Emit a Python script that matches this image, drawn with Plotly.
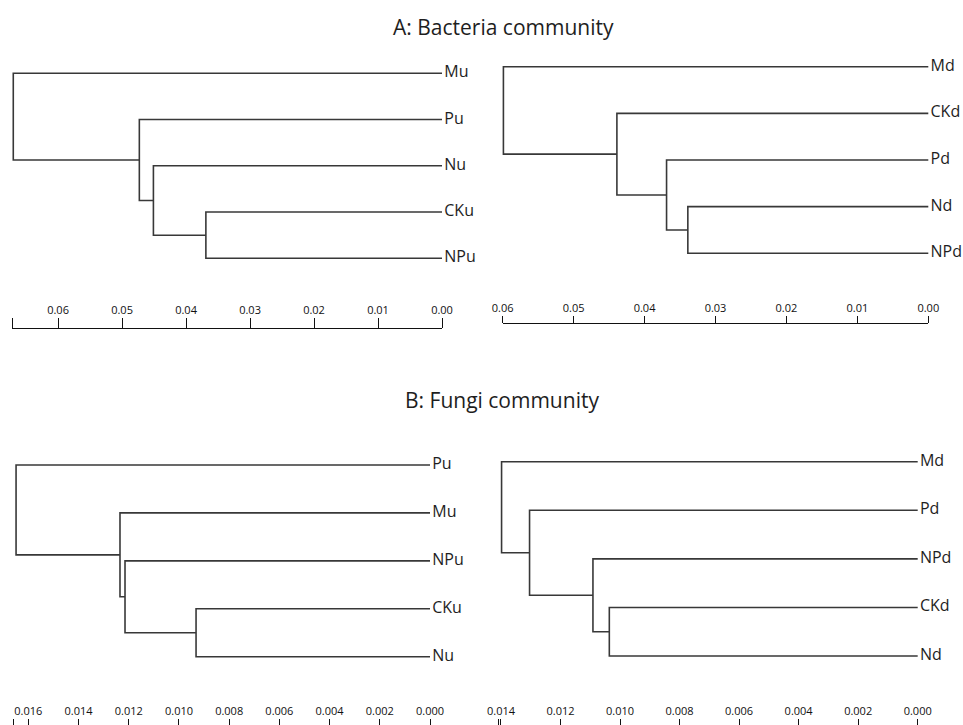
import plotly.graph_objects as go

W, H = 963, 725

# ---------------- data ----------------
# Panel A (bacteria), left: leaves top->bottom, merges (child_a, child_b, height)
a_left_leaves = ["Mu", "Pu", "Nu", "CKu", "NPu"]
a_left_merges = [(3, 4, 0.0369), (2, 5, 0.0451), (1, 6, 0.0473), (0, 7, 0.0670)]
a_left_ticks = [0.06, 0.05, 0.04, 0.03, 0.02, 0.01, 0.00]
a_left_ticktext = ["0.06", "0.05", "0.04", "0.03", "0.02", "0.01", "0.00"]
a_left_axis_end = 0.0672

a_right_leaves = ["Md", "CKd", "Pd", "Nd", "NPd"]
a_right_merges = [(3, 4, 0.0339), (2, 5, 0.0369), (1, 6, 0.0439), (0, 7, 0.0599)]
a_right_ticks = [0.06, 0.05, 0.04, 0.03, 0.02, 0.01, 0.00]
a_right_ticktext = ["0.06", "0.05", "0.04", "0.03", "0.02", "0.01", "0.00"]
a_right_axis_end = 0.0600

# Panel B (fungi)
b_left_leaves = ["Pu", "Mu", "NPu", "CKu", "Nu"]
b_left_merges = [(3, 4, 0.00932), (2, 5, 0.01215), (1, 6, 0.01235), (0, 7, 0.01649)]
b_left_ticks = [0.016, 0.014, 0.012, 0.010, 0.008, 0.006, 0.004, 0.002, 0.000]
b_left_ticktext = ["0.016", "0.014", "0.012", "0.010", "0.008", "0.006", "0.004", "0.002", "0.000"]
b_left_axis_end = 0.0166

b_right_leaves = ["Md", "Pd", "NPd", "CKd", "Nd"]
b_right_merges = [(3, 4, 0.01036), (2, 5, 0.01091), (1, 6, 0.01304), (0, 7, 0.01398)]
b_right_ticks = [0.014, 0.012, 0.010, 0.008, 0.006, 0.004, 0.002, 0.000]
b_right_ticktext = ["0.014", "0.012", "0.010", "0.008", "0.006", "0.004", "0.002", "0.000"]
b_right_axis_end = 0.0141

titles = ["A: Bacteria community", "B: Fungi community"]

# ---------------- layout geometry (pixels) ----------------
panels = [
    dict(leaves=a_left_leaves, merges=a_left_merges, ticks=a_left_ticks, ticktext=a_left_ticktext,
         end=a_left_axis_end, left_px=12, zero_px=442, leaf_top=73.3, leaf_bot=258.3,
         axis_y=328.3, ticklen=10, showline=True),
    dict(leaves=a_right_leaves, merges=a_right_merges, ticks=a_right_ticks, ticktext=a_right_ticktext,
         end=a_right_axis_end, left_px=502.7, zero_px=928.3, leaf_top=66.7, leaf_bot=253.3,
         axis_y=323.3, ticklen=7, showline=True),
    dict(leaves=b_left_leaves, merges=b_left_merges, ticks=b_left_ticks, ticktext=b_left_ticktext,
         end=b_left_axis_end, left_px=13.3, zero_px=430, leaf_top=465, leaf_bot=656.7,
         axis_y=725, ticklen=6, showline=False),
    dict(leaves=b_right_leaves, merges=b_right_merges, ticks=b_right_ticks, ticktext=b_right_ticktext,
         end=b_right_axis_end, left_px=498, zero_px=917.7, leaf_top=461.7, leaf_bot=656,
         axis_y=725, ticklen=6, showline=False),
]

FONT = "Open Sans, Noto Sans, sans-serif"
LINE_COLOR = "#383838"
TEXT_COLOR = "#1e1e1e"

fig = go.Figure()
layout = dict(
    width=W, height=H, margin=dict(l=0, r=0, t=0, b=0, pad=0, autoexpand=False),
    paper_bgcolor="white", plot_bgcolor="rgba(0,0,0,0)", showlegend=False,
    font=dict(family=FONT, color=TEXT_COLOR),
)

PAD = 0.3  # leaf index padding
for p, pan in enumerate(panels):
    xt = f"x{2*p+1}"
    xs = f"x{2*p+2}"
    yt = f"y{p+1}"
    n = len(pan["leaves"])
    k = (pan["zero_px"] - pan["left_px"]) / pan["end"]  # px per unit

    # tree x-axis (invisible), wider domain with same scale
    d0, d1 = max(0.0, pan["left_px"] - 10), min(W, pan["zero_px"] + 6)
    layout["xaxis" + xt[1:]] = dict(
        domain=[d0 / W, d1 / W], range=[(pan["zero_px"] - d0) / k, (pan["zero_px"] - d1) / k],
        visible=False, anchor=yt)
    spacing = (pan["leaf_bot"] - pan["leaf_top"]) / (n - 1)
    top_px = pan["leaf_top"] - PAD * spacing
    bot_px = pan["leaf_bot"] + PAD * spacing
    layout["yaxis" + yt[1:]] = dict(
        domain=[1 - bot_px / H, 1 - top_px / H], range=[n - 1 + PAD, -PAD],
        visible=False, anchor=xt)

    # scale axis
    tv, tt = list(pan["ticks"]), list(pan["ticktext"])
    if abs(pan["end"] - tv[0]) > 1e-9:
        tv = [pan["end"]] + tv
        tt = [""] + tt
    layout["xaxis" + xs[1:]] = dict(
        domain=[pan["left_px"] / W, pan["zero_px"] / W], range=[pan["end"], 0],
        anchor="free", position=max(0.0, 1 - pan["axis_y"] / H), side="top",
        tickmode="array", tickvals=tv, ticktext=tt, automargin=False,
        ticks="outside", ticklen=pan["ticklen"], tickwidth=1.3, tickcolor="#111",
        showline=pan["showline"], linecolor="#111", linewidth=1.3,
        showgrid=False, zeroline=False,
        tickfont=dict(size=11, color="#111", family=FONT))

    # build dendrogram path
    pos = {i: (0.0, float(i)) for i in range(n)}
    xs_path, ys_path = [], []
    for j, (a, b, h) in enumerate(pan["merges"]):
        xa, ya = pos[a]
        xb, yb = pos[b]
        xs_path += [xa, h, h, xb, None]
        ys_path += [ya, ya, yb, yb, None]
        pos[n + j] = (h, (ya + yb) / 2)
    fig.add_trace(go.Scatter(x=xs_path, y=ys_path, mode="lines", xaxis=xt, yaxis=yt,
                             line=dict(color=LINE_COLOR, width=1.6), hoverinfo="skip"))
    # leaf labels on scale subplot
    fig.add_trace(go.Scatter(x=[0] * n, y=list(range(n)), mode="markers+text", text=pan["leaves"],
                             marker=dict(size=2, opacity=0),
                             textposition="middle right", cliponaxis=False,
                             textfont=dict(size=16, color=TEXT_COLOR, family=FONT),
                             xaxis=xs, yaxis=yt, hoverinfo="skip"))

layout["annotations"] = [
    dict(text=titles[0], x=504 / W, y=1 - 27 / H, xref="paper", yref="paper", showarrow=False,
         xanchor="center", yanchor="middle", font=dict(size=21, color=TEXT_COLOR, family=FONT)),
    dict(text=titles[1], x=502 / W, y=1 - 400 / H, xref="paper", yref="paper", showarrow=False,
         xanchor="center", yanchor="middle", font=dict(size=21, color=TEXT_COLOR, family=FONT)),
]
fig.update_layout(**layout)
fig.write_html("out.html", config={"displayModeBar": False},
               post_script="document.body.style.margin='0';")
